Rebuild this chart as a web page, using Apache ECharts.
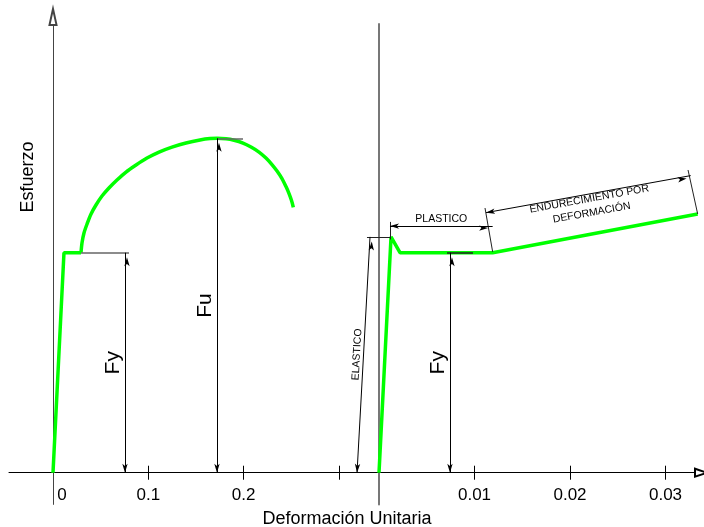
<!DOCTYPE html>
<html>
<head>
<meta charset="utf-8">
<script src="https://cdn.jsdelivr.net/npm/echarts@6/dist/echarts.min.js"></script>
<style>
  html, body { margin: 0; padding: 0; background: #fff; }
  #chart { width: 704px; height: 527px; }
</style>
</head>
<body>
<div id="chart"></div>
<script>
// curva completa: tramo elastico + fluencia (deformacion, esfuerzo MPa)
const generalStrain = [0, 0.0115, 0.0294];
const generalStress = [0, 250, 250];
// endurecimiento hasta Fu y estriccion
const arcStrain = [0.0294, 0.0304, 0.0325, 0.0357, 0.0399, 0.0451, 0.0514, 0.0587, 0.0671, 0.0766, 0.0871, 0.0986, 0.1112, 0.1248, 0.1395, 0.1542, 0.1647, 0.172,
  0.1815, 0.1899, 0.1993, 0.2077, 0.2161, 0.2234, 0.2297, 0.235, 0.2402, 0.2444, 0.2476, 0.2502, 0.2521];
const arcStress = [250, 261, 272.4, 282.6, 294, 304.2, 314.4, 323.5, 332.6, 341.7, 349.7, 357.6, 364.4, 370.1, 374.7, 378.1, 379.7, 380,
  379.4, 377.8, 374.6, 370.1, 364.4, 357.6, 350.2, 342.8, 334.3, 325.2, 317.2, 309.3, 301.6];
// detalle ampliado (eje derecho)
const detailStrain = [0, 0.00126, 0.0022, 0.0119, 0.03337];
const detailStress = [0, 268, 250, 250, 294];

const Fy = 250;
const Fu = 380;
const leftTicks = [0.1, 0.2, 0.3];
const leftLabels = [0, 0.1, 0.2];
const rightTicks = [0.01, 0.02, 0.03];

// cotas [inicio, fin]
const cotaFyLeft = [[0.0755, 0], [0.0755, Fy]];
const cotaFu = [[0.172, 0], [0.172, Fu]];
const cotaFyRight = [[0.00743, 0], [0.00743, Fy]];
const cotaElastico = [[-0.0023, 0], [-0.00094, 268]];
const cotaPlastico = [[0.00115, 280.3], [0.0119, 280.3]];
const cotaEndurec = [[0.0112, 295.5], [0.03264, 337.6]];
// lineas auxiliares
const auxFyLeft = [[0.0294, Fy], [0.0797, Fy]];
const auxFu = [[0.172, Fu], [0.1993, Fu]];
const auxFyRight = [[0.00712, Fy], [0.00984, Fy]];
const auxElastico = [[-0.00126, 268], [0.00126, 268]];
const auxPlastico = [[0.00115, 265], [0.00115, 285]];
const auxEndurec1 = [[0.0111, 300.8], [0.0119, 251]];
const auxEndurec2 = [[0.03236, 344], [0.03337, 294]];

const FONT = 'Liberation Sans, Arial, sans-serif';
const GREEN = '#00ff00';

const zip = (xs, ys) => xs.map((x, i) => [x, ys[i]]);

function cota(pts, text, size, dist, extra) {
  return [
    { coord: pts[0], label: Object.assign({ show: text != null, formatter: text, position: 'middle', distance: dist, fontSize: size, color: '#000', fontFamily: FONT }, extra || {}) },
    { coord: pts[1] }
  ];
}
function aux(pts, color, width) {
  return [
    { coord: pts[0], symbol: 'none', lineStyle: { color: color, width: width, type: 'solid' } },
    { coord: pts[1], symbol: 'none' }
  ];
}
function markLines(data) {
  return {
    silent: true,
    animation: false,
    symbol: ['arrow', 'arrow'],
    symbolSize: [4, 9],
    symbolOffset: [0, '50%'],
    lineStyle: { color: '#000', width: 1, type: 'solid' },
    label: { show: false },
    emphasis: { disabled: true },
    data: data
  };
}
function tickAxis(gridIndex, min, max, ticks, onZeroIdx) {
  return {
    type: 'value', gridIndex: gridIndex, min: min, max: max, position: 'bottom',
    axisLine: { show: false, onZero: true, onZeroAxisIndex: onZeroIdx },
    axisTick: { show: true, inside: true, length: 7, customValues: ticks, lineStyle: { color: '#000' } },
    axisLabel: { show: false },
    splitLine: { show: false }
  };
}

const chart = echarts.init(document.getElementById('chart'));
chart.setOption({
  backgroundColor: '#fff',
  animation: false,
  grid: [
    { left: 9, right: 325, top: 16.9, bottom: 22.6, outerBoundsMode: 'none', containLabel: false },
    { left: 340, right: 3, top: 23.9, bottom: 22.6, outerBoundsMode: 'none', containLabel: false }
  ],
  xAxis: [
    {
      type: 'value', gridIndex: 0, min: -0.04616, max: 0.34197,
      axisLine: { onZero: true, onZeroAxisIndex: 0, lineStyle: { color: '#000', width: 1 } },
      axisTick: { show: true, length: 7, customValues: leftTicks, lineStyle: { color: '#000' } },
      axisLabel: {
        customValues: leftLabels, margin: -18, fontSize: 17, color: '#000', fontFamily: FONT,
        formatter: v => v === 0 ? '{z|0}' : String(v),
        rich: { z: { padding: [0, 0, 0, 18], fontSize: 17, color: '#000', fontFamily: FONT } }
      },
      splitLine: { show: false }
    },
    tickAxis(0, -0.04616, 0.34197, leftTicks, 0),
    {
      type: 'value', gridIndex: 1, min: -0.004084, max: 0.033717,
      axisLine: { onZero: true, onZeroAxisIndex: 1, symbol: ['none', 'emptyTriangle'], symbolSize: [8, 12], lineStyle: { color: '#000', width: 1 } },
      axisTick: { show: true, length: 7, customValues: rightTicks, lineStyle: { color: '#000' } },
      axisLabel: { customValues: rightTicks, margin: -18, fontSize: 17, color: '#000', fontFamily: FONT },
      splitLine: { show: false }
    },
    tickAxis(1, -0.004084, 0.033717, rightTicks, 1)
  ],
  yAxis: [
    {
      type: 'value', gridIndex: 0, min: -36, max: 518,
      axisLine: { show: true, onZero: true, symbol: ['none', 'emptyTriangle'], symbolSize: [7, 16], lineStyle: { color: '#444', width: 1 } },
      axisTick: { show: false }, axisLabel: { show: false }, splitLine: { show: false }
    },
    {
      type: 'value', gridIndex: 1, min: -36, max: 510,
      axisLine: { show: true, onZero: true, lineStyle: { color: '#777', width: 2 } },
      axisTick: { show: false }, axisLabel: { show: false }, splitLine: { show: false }
    }
  ],
  series: [
    {
      type: 'line', xAxisIndex: 0, yAxisIndex: 0, symbol: 'none', z: 3,
      lineStyle: { color: GREEN, width: 3.5 },
      data: zip(generalStrain, generalStress),
      markLine: markLines([
        aux(auxFyLeft, '#666', 1.5),
        aux(auxFu, '#666', 1.5),
        cota(cotaFyLeft, 'Fy', 21, 1),
        cota(cotaFu, 'Fu', 21, 1)
      ])
    },
    {
      type: 'line', xAxisIndex: 0, yAxisIndex: 0, symbol: 'none', smooth: 0.3, z: 3,
      lineStyle: { color: GREEN, width: 3.5 },
      data: zip(arcStrain, arcStress)
    },
    {
      type: 'line', xAxisIndex: 2, yAxisIndex: 1, symbol: 'none', z: 3,
      lineStyle: { color: GREEN, width: 3.5 },
      data: zip(detailStrain, detailStress),
      markLine: markLines([
        aux(auxFyRight, '#222', 1.5),
        aux(auxElastico, '#222', 1),
        aux(auxPlastico, '#222', 1),
        aux(auxEndurec1, '#222', 1),
        aux(auxEndurec2, '#222', 1),
        cota(cotaFyRight, 'Fy', 21, 1),
        cota(cotaElastico, 'ELASTICO', 10.5, 1),
        cota(cotaPlastico, 'PLASTICO', 10.5, 1),
        cota(cotaEndurec, 'ENDURECIMIENTO POR\nDEFORMACIÓN', 10.5, -26, { lineHeight: 14, align: 'center' })
      ])
    }
  ],
  graphic: [
    {
      type: 'text', x: 28, y: 177, rotation: Math.PI / 2,
      style: { text: 'Esfuerzo', fontSize: 18, fontFamily: FONT, fill: '#000', align: 'center', verticalAlign: 'middle', textAlign: 'center', textVerticalAlign: 'middle' }
    },
    {
      type: 'text', x: 347, y: 519,
      style: { text: 'Deformación Unitaria', fontSize: 18, fontFamily: FONT, fill: '#000', align: 'center', verticalAlign: 'middle', textAlign: 'center', textVerticalAlign: 'middle' }
    }
  ]
});
</script>
</body>
</html>
